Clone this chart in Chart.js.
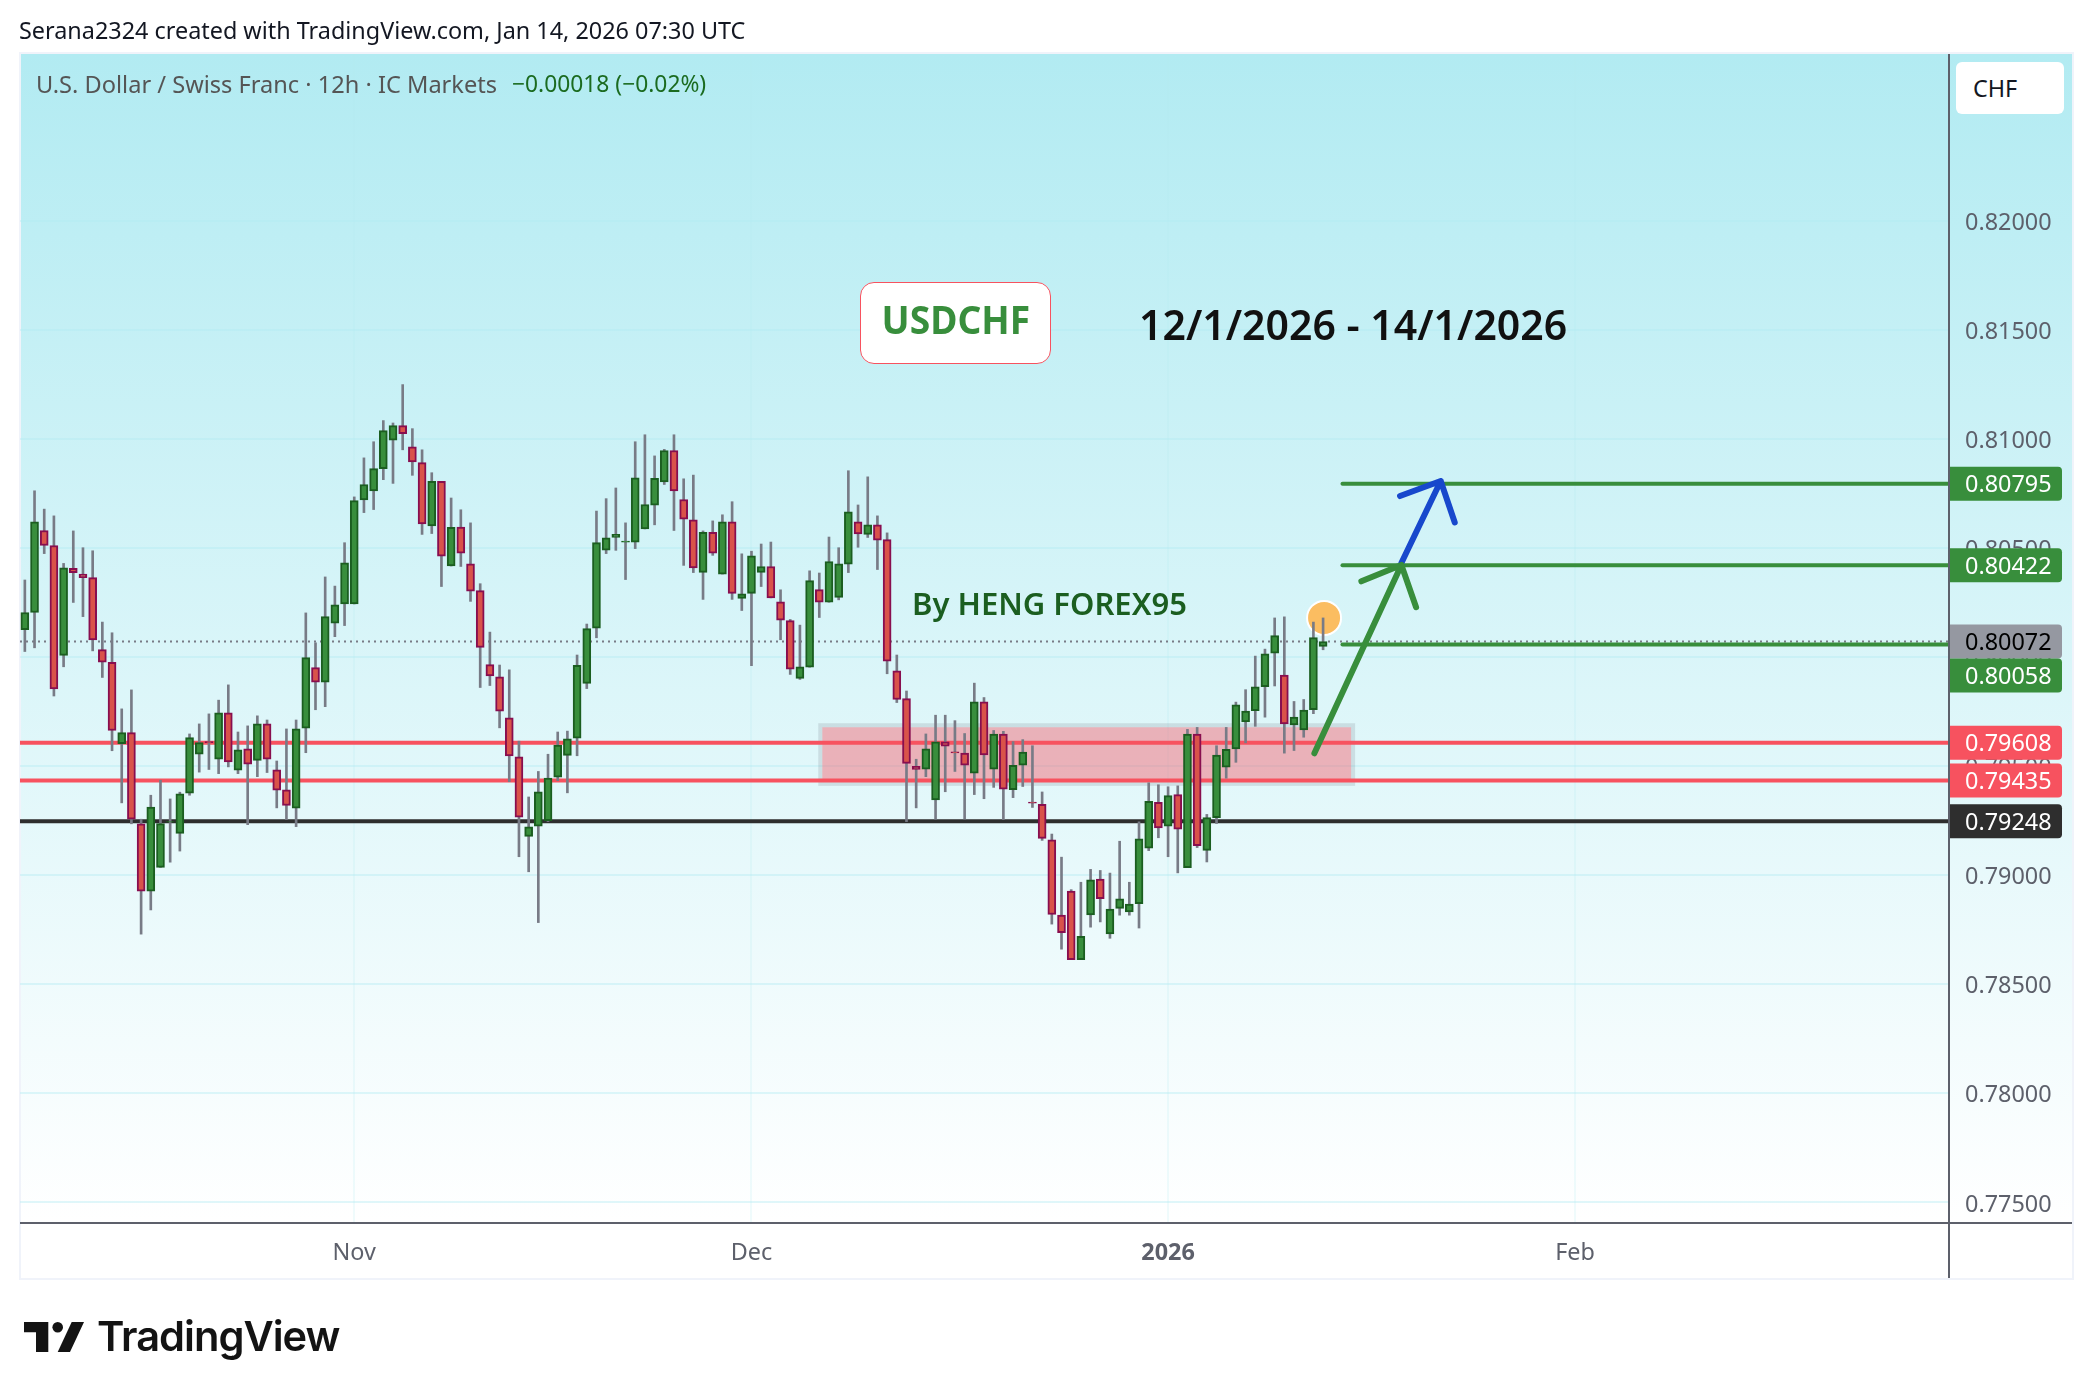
<!DOCTYPE html>
<html>
<head>
<meta charset="utf-8">
<title>USDCHF</title>
<script src="https://cdn.jsdelivr.net/npm/chart.js@4/dist/chart.umd.min.js"></script>
<style>
  html, body { margin: 0; padding: 0; background: #fff; }
  body { width: 2092px; height: 1398px; position: relative; overflow: hidden; font-family: "Noto Sans", sans-serif; }
  canvas { position: absolute; left: 0; top: 0; }
  .txt { position: absolute; white-space: pre; line-height: 1; }
  #credit { left: 19px; top: 19px; font-size: 23.4px; color: #131722; }
  #legend { left: 36px; top: 73px; font-size: 23.6px; color: #555; }
  #change { left: 512px; top: 73px; font-size: 22.8px; color: #1b6b20; }
  #symbolBox { left: 860px; top: 282px; width: 191px; height: 82px; box-sizing: border-box; background: #fff; border: 1px solid #f7525f; border-radius: 14px;
    color: #388e3c; font-size: 40px; font-weight: 700; text-align: center; line-height: 72px; }
  #symbolBox span { display: inline-block; transform: scaleX(0.93); }
  #dates { left: 1139px; top: 304px; font-size: 41px; font-weight: 600; color: #111; }
  #author { left: 912px; top: 588px; font-size: 31px; font-weight: 600; color: #1b5e20; }
  #currency { left: 1956px; top: 62px; width: 108px; height: 52px; background: #fff; border-radius: 6px; color: #131722; font-size: 23.4px; line-height: 52px; text-indent: 17px; }
  #logoWord { left: 97px; top: 1316px; font-family: Inter, sans-serif; font-size: 41.6px; font-weight: 600; color: #131313; letter-spacing: -1px; }
  #logoMark { position: absolute; left: 0; top: 1300px; }
</style>
</head>
<body>
<canvas id="chart" width="2092" height="1398"></canvas>
<div class="txt" id="credit">Serana2324 created with TradingView.com, Jan 14, 2026 07:30 UTC</div>
<div class="txt" id="legend">U.S. Dollar / Swiss Franc · 12h · IC Markets</div>
<div class="txt" id="change">−0.00018 (−0.02%)</div>
<div class="txt" id="symbolBox"><span>USDCHF</span></div>
<div class="txt" id="dates">12/1/2026 - 14/1/2026</div>
<div class="txt" id="author">By HENG FOREX95</div>
<div class="txt" id="currency">CHF</div>
<svg id="logoMark" width="100" height="70" viewBox="0 1300 100 70">
  <polygon points="24,1322 48.3,1322 48.3,1352 36,1352 36,1332.3 24,1332.3" fill="#131313"/>
  <circle cx="57.7" cy="1327.3" r="5.3" fill="#131313"/>
  <polygon points="71.7,1322 84,1322 70,1352 57.7,1352" fill="#131313"/>
</svg>
<div class="txt" id="logoWord">TradingView</div>
<script>
// 12h candles
const opens = [0.80126,0.80205,0.80581,0.80512,0.80008,0.80407,0.80381,0.80365,0.80035,0.79977,
  0.79604,0.79654,0.79236,0.78927,0.79036,0.79243,0.79192,0.79376,0.79555,0.79613,
  0.79532,0.79745,0.79482,0.79580,0.79527,0.79694,0.79483,0.79392,0.79308,0.79675,
  0.79952,0.79885,0.80156,0.80244,0.80244,0.80721,0.80762,0.80864,0.80995,0.81062,
  0.80965,0.80892,0.80602,0.80806,0.80418,0.80597,0.80428,0.80305,0.79966,0.79910,
  0.79722,0.79543,0.79178,0.79225,0.79250,0.79450,0.79550,0.79629,0.79880,0.80133,
  0.80491,0.80549,0.80528,0.80528,0.80588,0.80697,0.80804,0.80948,0.80723,0.80630,
  0.80389,0.80572,0.80381,0.80621,0.80270,0.80293,0.80389,0.80416,0.80254,0.80168,
  0.79903,0.79954,0.80310,0.80252,0.80274,0.80426,0.80621,0.80563,0.80607,0.80539,
  0.79938,0.79810,0.79499,0.79487,0.79345,0.79612,0.79566,0.79560,0.79468,0.79795,
  0.79487,0.79647,0.79392,0.79505,0.79336,0.79325,0.79163,0.78817,0.78927,0.78613,
  0.78818,0.78983,0.78731,0.78848,0.78832,0.78870,0.79124,0.79334,0.79225,0.79370,
  0.79035,0.79647,0.79114,0.79264,0.79496,0.79579,0.79703,0.79755,0.79865,0.80018,
  0.79918,0.79689,0.79667,0.79759,0.80049];
const closes = [0.80205,0.80621,0.80512,0.79854,0.80410,0.80388,0.80365,0.80079,0.79977,0.79664,
  0.79654,0.79257,0.78927,0.79313,0.79237,0.79246,0.79373,0.79631,0.79608,0.79608,
  0.79745,0.79520,0.79575,0.79510,0.79694,0.79532,0.79390,0.79320,0.79671,0.79998,
  0.79885,0.80186,0.80240,0.80433,0.80718,0.80792,0.80865,0.81039,0.81062,0.81025,
  0.80895,0.80611,0.80806,0.80463,0.80595,0.80477,0.80303,0.80045,0.79914,0.79752,
  0.79547,0.79266,0.79222,0.79383,0.79446,0.79597,0.79626,0.79963,0.80131,0.80525,
  0.80547,0.80563,0.80532,0.80823,0.80700,0.80820,0.80948,0.80762,0.80633,0.80409,
  0.80572,0.80477,0.80621,0.80293,0.80291,0.80465,0.80416,0.80272,0.80170,0.79945,
  0.79956,0.80351,0.80252,0.80439,0.80428,0.80667,0.80565,0.80607,0.80537,0.79982,
  0.79806,0.79513,0.79485,0.79580,0.79612,0.79592,0.79561,0.79505,0.79795,0.79552,
  0.79647,0.79395,0.79504,0.79565,0.79331,0.79169,0.78820,0.78737,0.78613,0.78720,
  0.78979,0.78893,0.78845,0.78892,0.78868,0.79167,0.79339,0.79217,0.79365,0.79211,
  0.79647,0.79136,0.79264,0.79551,0.79577,0.79781,0.79753,0.79864,0.80015,0.80099,
  0.79694,0.79725,0.79758,0.80090,0.80072];
const highs = [0.80354,0.80763,0.80679,0.80648,0.80430,0.80579,0.80502,0.80488,0.80161,0.80112,
  0.79763,0.79850,0.79257,0.79367,0.79436,0.79350,0.79381,0.79648,0.79694,0.79740,
  0.79803,0.79873,0.79657,0.79685,0.79731,0.79712,0.79524,0.79671,0.79712,0.80203,
  0.80066,0.80368,0.80326,0.80525,0.80735,0.80914,0.80988,0.81085,0.81074,0.81250,
  0.81048,0.80951,0.80846,0.80806,0.80730,0.80676,0.80616,0.80337,0.80115,0.79964,
  0.79942,0.79615,0.79359,0.79476,0.79555,0.79657,0.79661,0.80010,0.80152,0.80670,
  0.80727,0.80776,0.80616,0.80988,0.81020,0.80923,0.80953,0.81020,0.80818,0.80835,
  0.80579,0.80625,0.80653,0.80713,0.80474,0.80486,0.80519,0.80528,0.80309,0.80173,
  0.80147,0.80396,0.80386,0.80551,0.80502,0.80855,0.80698,0.80827,0.80648,0.80570,
  0.80010,0.79845,0.79532,0.79648,0.79734,0.79734,0.79709,0.79650,0.79881,0.79815,
  0.79664,0.79660,0.79613,0.79622,0.79594,0.79382,0.79189,0.79083,0.78934,0.78968,
  0.79027,0.79022,0.79010,0.79156,0.78968,0.79245,0.79424,0.79415,0.79406,0.79410,
  0.79669,0.79678,0.79279,0.79594,0.79678,0.79794,0.79851,0.80005,0.80037,0.80180,
  0.80185,0.79797,0.79806,0.80161,0.80180];
const lows = [0.80026,0.80043,0.80475,0.79822,0.79956,0.80251,0.80186,0.80029,0.79907,0.79571,
  0.79332,0.79236,0.78730,0.78841,0.79036,0.79060,0.79111,0.79367,0.79473,0.79485,
  0.79466,0.79497,0.79466,0.79232,0.79452,0.79471,0.79309,0.79255,0.79223,0.79562,
  0.79759,0.79773,0.80094,0.80145,0.80244,0.80663,0.80677,0.80814,0.80797,0.80951,
  0.80834,0.80563,0.80567,0.80324,0.80418,0.80416,0.80256,0.79861,0.79870,0.79676,
  0.79429,0.79085,0.79016,0.78783,0.79246,0.79434,0.79378,0.79548,0.79856,0.80089,
  0.80475,0.80490,0.80356,0.80498,0.80588,0.80607,0.80792,0.80581,0.80421,0.80388,
  0.80265,0.80467,0.80381,0.80265,0.80214,0.79961,0.80324,0.80272,0.80080,0.79921,
  0.79898,0.79954,0.80182,0.80252,0.80263,0.80388,0.80504,0.80549,0.80402,0.79924,
  0.79792,0.79246,0.79309,0.79452,0.79257,0.79383,0.79476,0.79258,0.79370,0.79351,
  0.79403,0.79255,0.79356,0.79407,0.79311,0.79160,0.78776,0.78661,0.78613,0.78613,
  0.78762,0.78786,0.78711,0.78817,0.78817,0.78758,0.79113,0.79172,0.79085,0.79011,
  0.79035,0.79127,0.79061,0.79237,0.79445,0.79518,0.79607,0.79683,0.79725,0.79868,
  0.79560,0.79572,0.79633,0.79741,0.80034];

// time axis
const tickIndexes = [34, 75, 118, 160];
const tickLabels = ['Nov', 'Dec', '2026', 'Feb'];
const slotCount = 199;

// drawn levels
const greenLevels = [0.80795, 0.80422, 0.80058];
const greenStart = 136;
const redLevels = [0.79608, 0.79435];
const blackLevel = 0.79248;
const lastPrice = 0.80072;

// zone
const zoneX = [82.1, 137.1];
const zoneY = [0.79419, 0.79688];

// arrows: shaft, then both barbs
const greenArrowX = [133.1, 142.08, 137.95, 142.08, 143.6];
const greenArrowY = [0.79559, 0.80423, 0.80348, 0.80423, 0.80229];
const blueArrowX = [142.08, 146.14, 141.94, 146.14, 147.59];
const blueArrowY = [0.80432, 0.80808, 0.80739, 0.80808, 0.80618];
const markerX = 134.1;
const markerY = 0.8018;

// price tags, top to bottom
const tagValues = [0.80795, 0.80422, 0.80072, 0.80058, 0.79608, 0.79435, 0.79248];
const tagColors = ['#388e3c', '#388e3c', '#9598a1', '#388e3c', '#f7525f', '#f7525f', '#2e2e2e'];
const tagTextColors = ['#fff', '#fff', '#000', '#fff', '#fff', '#fff', '#fff'];

const FONT = '"Noto Sans", sans-serif';
const PANE = { left: 20, right: 1948, outer: 2072, top: 54, bottom: 1222, foot: 1278 };
const AXIS_X = 1949;
const AXIS_Y = 1223;

const isUp = i => closes[i] >= opens[i];
const flatLine = (x0, x1, y) => [{ x: x0, y }, { x: x1, y }];
const pathOf = (xs, ys) => xs.map((x, i) => ({ x, y: ys[i] }));

const lineSet = (data, color, width, order, extra) => Object.assign({
  type: 'line', data, borderColor: color, borderWidth: width, pointRadius: 0,
  borderCapStyle: 'round', borderJoinStyle: 'round', tension: 0, fill: false, order
}, extra || {});

const backdrop = {
  id: 'backdrop',
  beforeDraw(chart) {
    const c = chart.ctx;
    const g = c.createLinearGradient(0, PANE.top, 0, PANE.bottom);
    g.addColorStop(0, '#b2ebf2');
    g.addColorStop(1, '#ffffff');
    c.save();
    c.fillStyle = g;
    c.fillRect(PANE.left, PANE.top, PANE.outer - PANE.left, PANE.bottom - PANE.top);
    c.strokeStyle = '#f0f3fa';
    c.lineWidth = 2;
    c.strokeRect(PANE.left, PANE.top - 1, PANE.outer - PANE.left + 1, PANE.foot - PANE.top + 2);
    c.restore();
  },
  beforeDatasetsDraw(chart) {
    // supply zone sits under the candles
    const c = chart.ctx, x = chart.scales.x, y = chart.scales.y;
    const l = x.getPixelForValue(zoneX[0]), r = x.getPixelForValue(zoneX[1]);
    const t = y.getPixelForValue(zoneY[1]), b = y.getPixelForValue(zoneY[0]);
    c.save();
    c.fillStyle = 'rgba(247,82,95,0.42)';
    c.fillRect(l + 2, t + 2, r - l - 4, b - t - 4);
    c.strokeStyle = 'rgba(120,123,134,0.2)';
    c.lineWidth = 4;
    c.strokeRect(l, t, r - l, b - t);
    c.restore();
  },
  afterDraw(chart) {
    const c = chart.ctx, y = chart.scales.y;
    c.save();
    // pane frame lines
    c.strokeStyle = '#5d606b';
    c.lineWidth = 2;
    c.beginPath();
    c.moveTo(PANE.left, AXIS_Y); c.lineTo(PANE.outer, AXIS_Y);
    c.moveTo(AXIS_X, PANE.top); c.lineTo(AXIS_X, PANE.foot);
    c.stroke();
    // price tags, pushed down when they would overlap
    let prev = -Infinity;
    c.font = '23.4px ' + FONT;
    c.textBaseline = 'middle';
    tagValues.forEach((v, i) => {
      const cy = Math.max(y.getPixelForValue(v), prev + 34);
      prev = cy;
      c.fillStyle = tagColors[i];
      c.beginPath();
      c.roundRect(AXIS_X + 1, cy - 17, 112, 34, [0, 4, 4, 0]);
      c.fill();
      c.fillStyle = tagTextColors[i];
      c.fillText(v.toFixed(5), 1965, cy + 2);
    });
    c.restore();
  }
};

new Chart(document.getElementById('chart'), {
  type: 'bar',
  data: {
    datasets: [
      { data: opens.map((_, i) => ({ x: i, y: [Math.min(opens[i], closes[i]), Math.max(opens[i], closes[i])] })),
        backgroundColor: opens.map((_, i) => isUp(i) ? '#388e3c' : '#d9534a'),
        borderColor: opens.map((_, i) => isUp(i) ? '#1b5e20' : '#880e4f'),
        borderWidth: 2, borderSkipped: false, barThickness: 8, grouped: false, order: 1 },
      { data: highs.map((h, i) => ({ x: i, y: [lows[i], h] })),
        backgroundColor: '#787b86', barThickness: 2, grouped: false, order: 2 },
      lineSet(pathOf([markerX], [markerY]), '#fff', 2, 3, { pointRadius: 17, pointBackgroundColor: '#fbbd61', pointBorderColor: '#fff', pointBorderWidth: 2 }),
      lineSet(flatLine(-0.5, slotCount - 0.5, lastPrice), '#787b86', 2, 7, { borderDash: [2, 4], borderCapStyle: 'butt' }),
      ...redLevels.map(v => lineSet(flatLine(-0.5, slotCount - 0.5, v), '#f7525f', 4, 6, { borderCapStyle: 'butt' })),
      lineSet(flatLine(-0.5, slotCount - 0.5, blackLevel), '#2e2e2e', 4, 6, { borderCapStyle: 'butt' }),
      ...greenLevels.map(v => lineSet(flatLine(greenStart, slotCount - 0.5, v), '#388e3c', 4, 5)),
      lineSet(pathOf(greenArrowX, greenArrowY), '#388e3c', 6, 0),
      lineSet(pathOf(blueArrowX, blueArrowY), '#1848cc', 6, 0)
    ]
  },
  options: {
    responsive: false,
    animation: false,
    devicePixelRatio: 1,
    layout: { padding: { left: PANE.left, right: 2092 - PANE.outer, top: PANE.top, bottom: 1398 - PANE.foot } },
    plugins: { legend: { display: false }, tooltip: { enabled: false } },
    scales: {
      x: {
        type: 'linear', offset: false, min: -0.5, max: slotCount - 0.5,
        grid: { offset: false, color: 'rgba(178,235,242,0.2)', lineWidth: 2, drawTicks: false },
        border: { display: false },
        afterBuildTicks: s => { s.ticks = tickIndexes.map(value => ({ value })); },
        afterFit: s => { s.height = PANE.foot - PANE.bottom; },
        ticks: {
          autoSkip: false, maxRotation: 0, padding: 17, color: '#5d606b',
          font: c => ({ family: FONT, size: 23.4, weight: c.index === 2 ? '700' : '400' }),
          callback: (v, i) => tickLabels[i]
        }
      },
      y: {
        position: 'right', min: 0.7741, max: 0.82766,
        grid: { color: 'rgba(178,235,242,0.4)', lineWidth: 2, drawTicks: false },
        border: { display: false },
        afterFit: s => { s.width = PANE.outer - PANE.right; },
        ticks: {
          stepSize: 0.005, includeBounds: false, padding: 17, labelOffset: 2.5, color: '#5d606b',
          font: { family: FONT, size: 23.4 },
          // the top step is hidden behind the currency button in the original
          callback: v => v > 0.821 ? null : v.toFixed(5)
        }
      }
    }
  },
  plugins: [backdrop]
});
</script>
</body>
</html>
